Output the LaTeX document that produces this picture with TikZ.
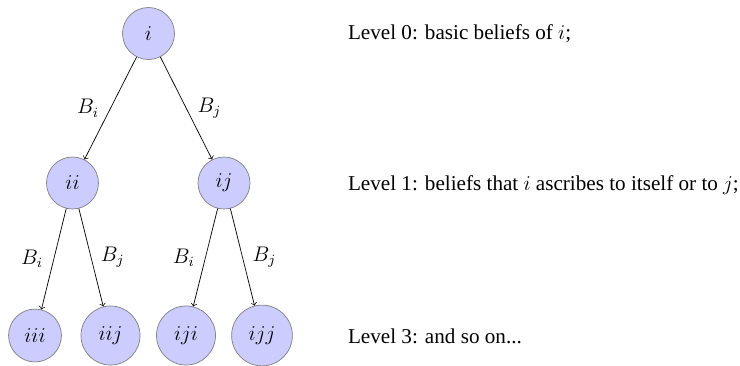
\documentclass[tikz,border=0pt]{standalone}
\usepackage{fontspec}
\setmainfont{Liberation Serif}
\begin{document}
\begin{tikzpicture}[x=0.5676pt,y=-0.5676pt,
  every node/.style={font=\fontsize{12}{14}\selectfont},
  agent/.style={circle,draw=gray,fill=blue!20,minimum size=29.5pt,inner sep=0pt},
  agentbig/.style={agent,minimum size=33.5pt},
  edgelbl/.style={inner sep=3pt},
  leveltxt/.style={anchor=base west,inner sep=0pt}]
\useasboundingbox (0,0) rectangle (740,365);
\node[agent] (i) at (148.5,33.5) {$i$};
\node[agent] (ii) at (72.5,183) {$ii$};
\node[agent] (ij) at (224,183) {$ij$};
\node[agent,minimum size=30pt] (iii) at (35,335.5) {$iii$};
\node[agentbig] (iij) at (110.5,335.5) {$iij$};
\node[agentbig] (iji) at (186,335.5) {$iji$};
\node[agentbig,minimum size=34.5pt] (ijj) at (262,335.5) {$ijj$};
\draw[->] (i) -- node[edgelbl,left=3.4pt] {$B_i$} (ii);
\draw[->] (i) -- node[edgelbl,right=3.2pt] {$B_j$} (ij);
\draw[->] (ii) -- node[edgelbl,left=3pt] {$B_i$} (iii);
\draw[->] (ii) -- node[edgelbl,right=2.4pt] {$B_j$} (iij);
\draw[->] (ij) -- node[edgelbl,left=3pt] {$B_i$} (iji);
\draw[->] (ij) -- node[edgelbl,right=2.6pt] {$B_j$} (ijj);
\node[leveltxt] (l0) at (347.7,39.3) {Level 0: basic beliefs of $i$;};
\node[leveltxt] (l1) at (347.7,190) {Level 1: beliefs that $i$ ascribes to itself or to $j$;};
\node[leveltxt] (l3) at (347.7,343.3) {Level 3: and so on...};
\end{tikzpicture}
\end{document}
